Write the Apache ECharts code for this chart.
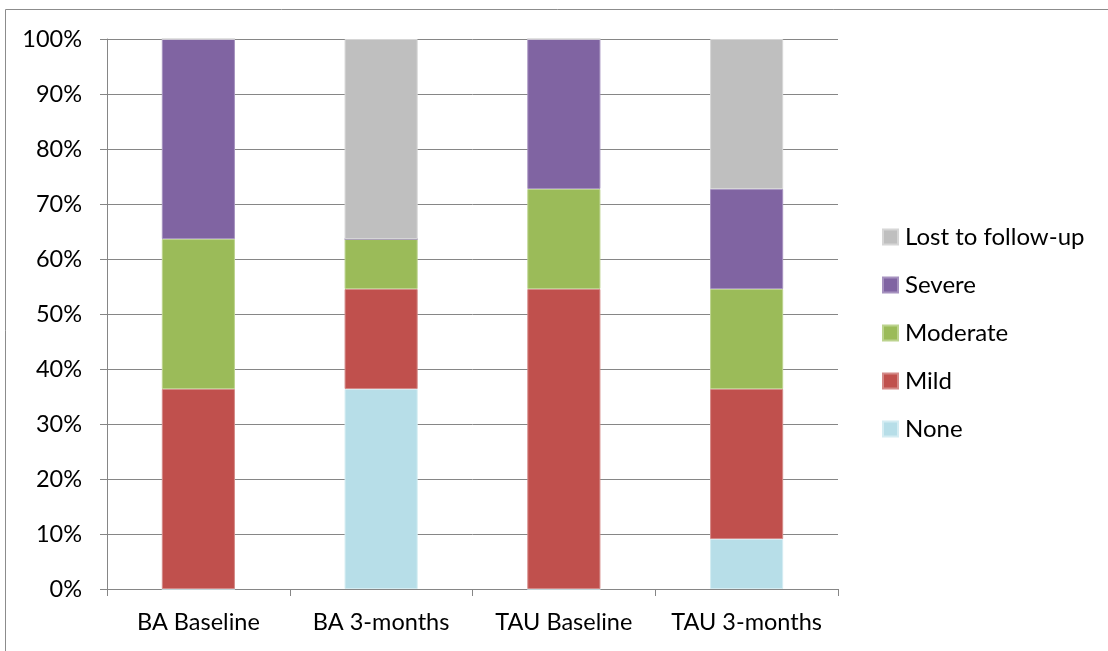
<!DOCTYPE html>
<html>
<head>
<meta charset="utf-8">
<script src="https://cdn.jsdelivr.net/npm/echarts@6/dist/echarts.min.js"></script>
<style>
  html, body { margin: 0; padding: 0; background: #fff; }
  #chart { width: 1108px; height: 651px; }
</style>
</head>
<body>
<div id="chart"></div>
<script>
// Groups on the x axis
const categories = ['BA Baseline', 'BA 3-months', 'TAU Baseline', 'TAU 3-months'];

// Share of participants per severity level (percent)
const none     = [0,     36.36, 0,     9.09];
const mild     = [36.36, 18.18, 54.55, 27.27];
const moderate = [27.27, 9.09,  18.18, 18.18];
const severe   = [36.37, 0,     27.27, 18.18];
const lost     = [0,     36.37, 0,     27.28];

const yTicks = [0, 10, 20, 30, 40, 50, 60, 70, 80, 90, 100];

const font = 'Lato, "Open Sans", sans-serif';
const gridColor = '#868686';

function bar(name, data, color, edge) {
  return {
    name: name,
    type: 'bar',
    stack: 'total',
    data: data,
    barWidth: '40%',
    itemStyle: { color: color, borderColor: edge, borderWidth: 1 },
    emphasis: { disabled: true }
  };
}

const chart = echarts.init(document.getElementById('chart'), null, { renderer: 'canvas' });
chart.setOption({
  animation: false,
  backgroundColor: '#fff',
  textStyle: { fontFamily: font },
  grid: { left: 107, right: 270, top: 39, bottom: 62, containLabel: false },
  legend: {
    orient: 'vertical',
    left: 882,
    top: 225,
    padding: 0,
    itemWidth: 15,
    itemHeight: 15,
    itemGap: 24,
    icon: 'rect',
    textStyle: { fontSize: 24, color: '#000', fontFamily: font, padding: [0, 0, 0, 2] },
    data: ['Lost to follow-up', 'Severe', 'Moderate', 'Mild', 'None']
  },
  xAxis: {
    type: 'category',
    data: categories,
    axisLine: { lineStyle: { color: gridColor, width: 1 } },
    axisTick: { show: true, length: 7, interval: 0, lineStyle: { color: gridColor } },
    axisLabel: { fontSize: 23.5, color: '#000', margin: 21, interval: 0, fontFamily: font },
    splitLine: { show: false }
  },
  yAxis: {
    type: 'value',
    min: 0,
    max: 100,
    interval: 10,
    axisLine: { show: true, lineStyle: { color: gridColor, width: 1 } },
    axisTick: { show: true, length: 7, lineStyle: { color: gridColor } },
    axisLabel: {
      fontSize: 23.5, color: '#000', margin: 25, fontFamily: font,
      formatter: v => (yTicks.indexOf(v) >= 0 ? v + '%' : '')
    },
    splitLine: { show: true, lineStyle: { color: gridColor, width: 1 } }
  },
  series: [
    bar('None', none, '#B7DEE8', '#D4ECF2'),
    bar('Mild', mild, '#C0504D', '#D48A88'),
    bar('Moderate', moderate, '#9BBB59', '#BCD38E'),
    bar('Severe', severe, '#8064A2', '#A692BF'),
    bar('Lost to follow-up', lost, '#BFBFBF', '#D6D6D6')
  ],
  graphic: [{
    type: 'rect',
    shape: { x: 5.5, y: 9.5, width: 1200, height: 700 },
    style: { fill: 'none', stroke: '#8c8c8c', lineWidth: 1 },
    silent: true
  }]
});
</script>
</body>
</html>
